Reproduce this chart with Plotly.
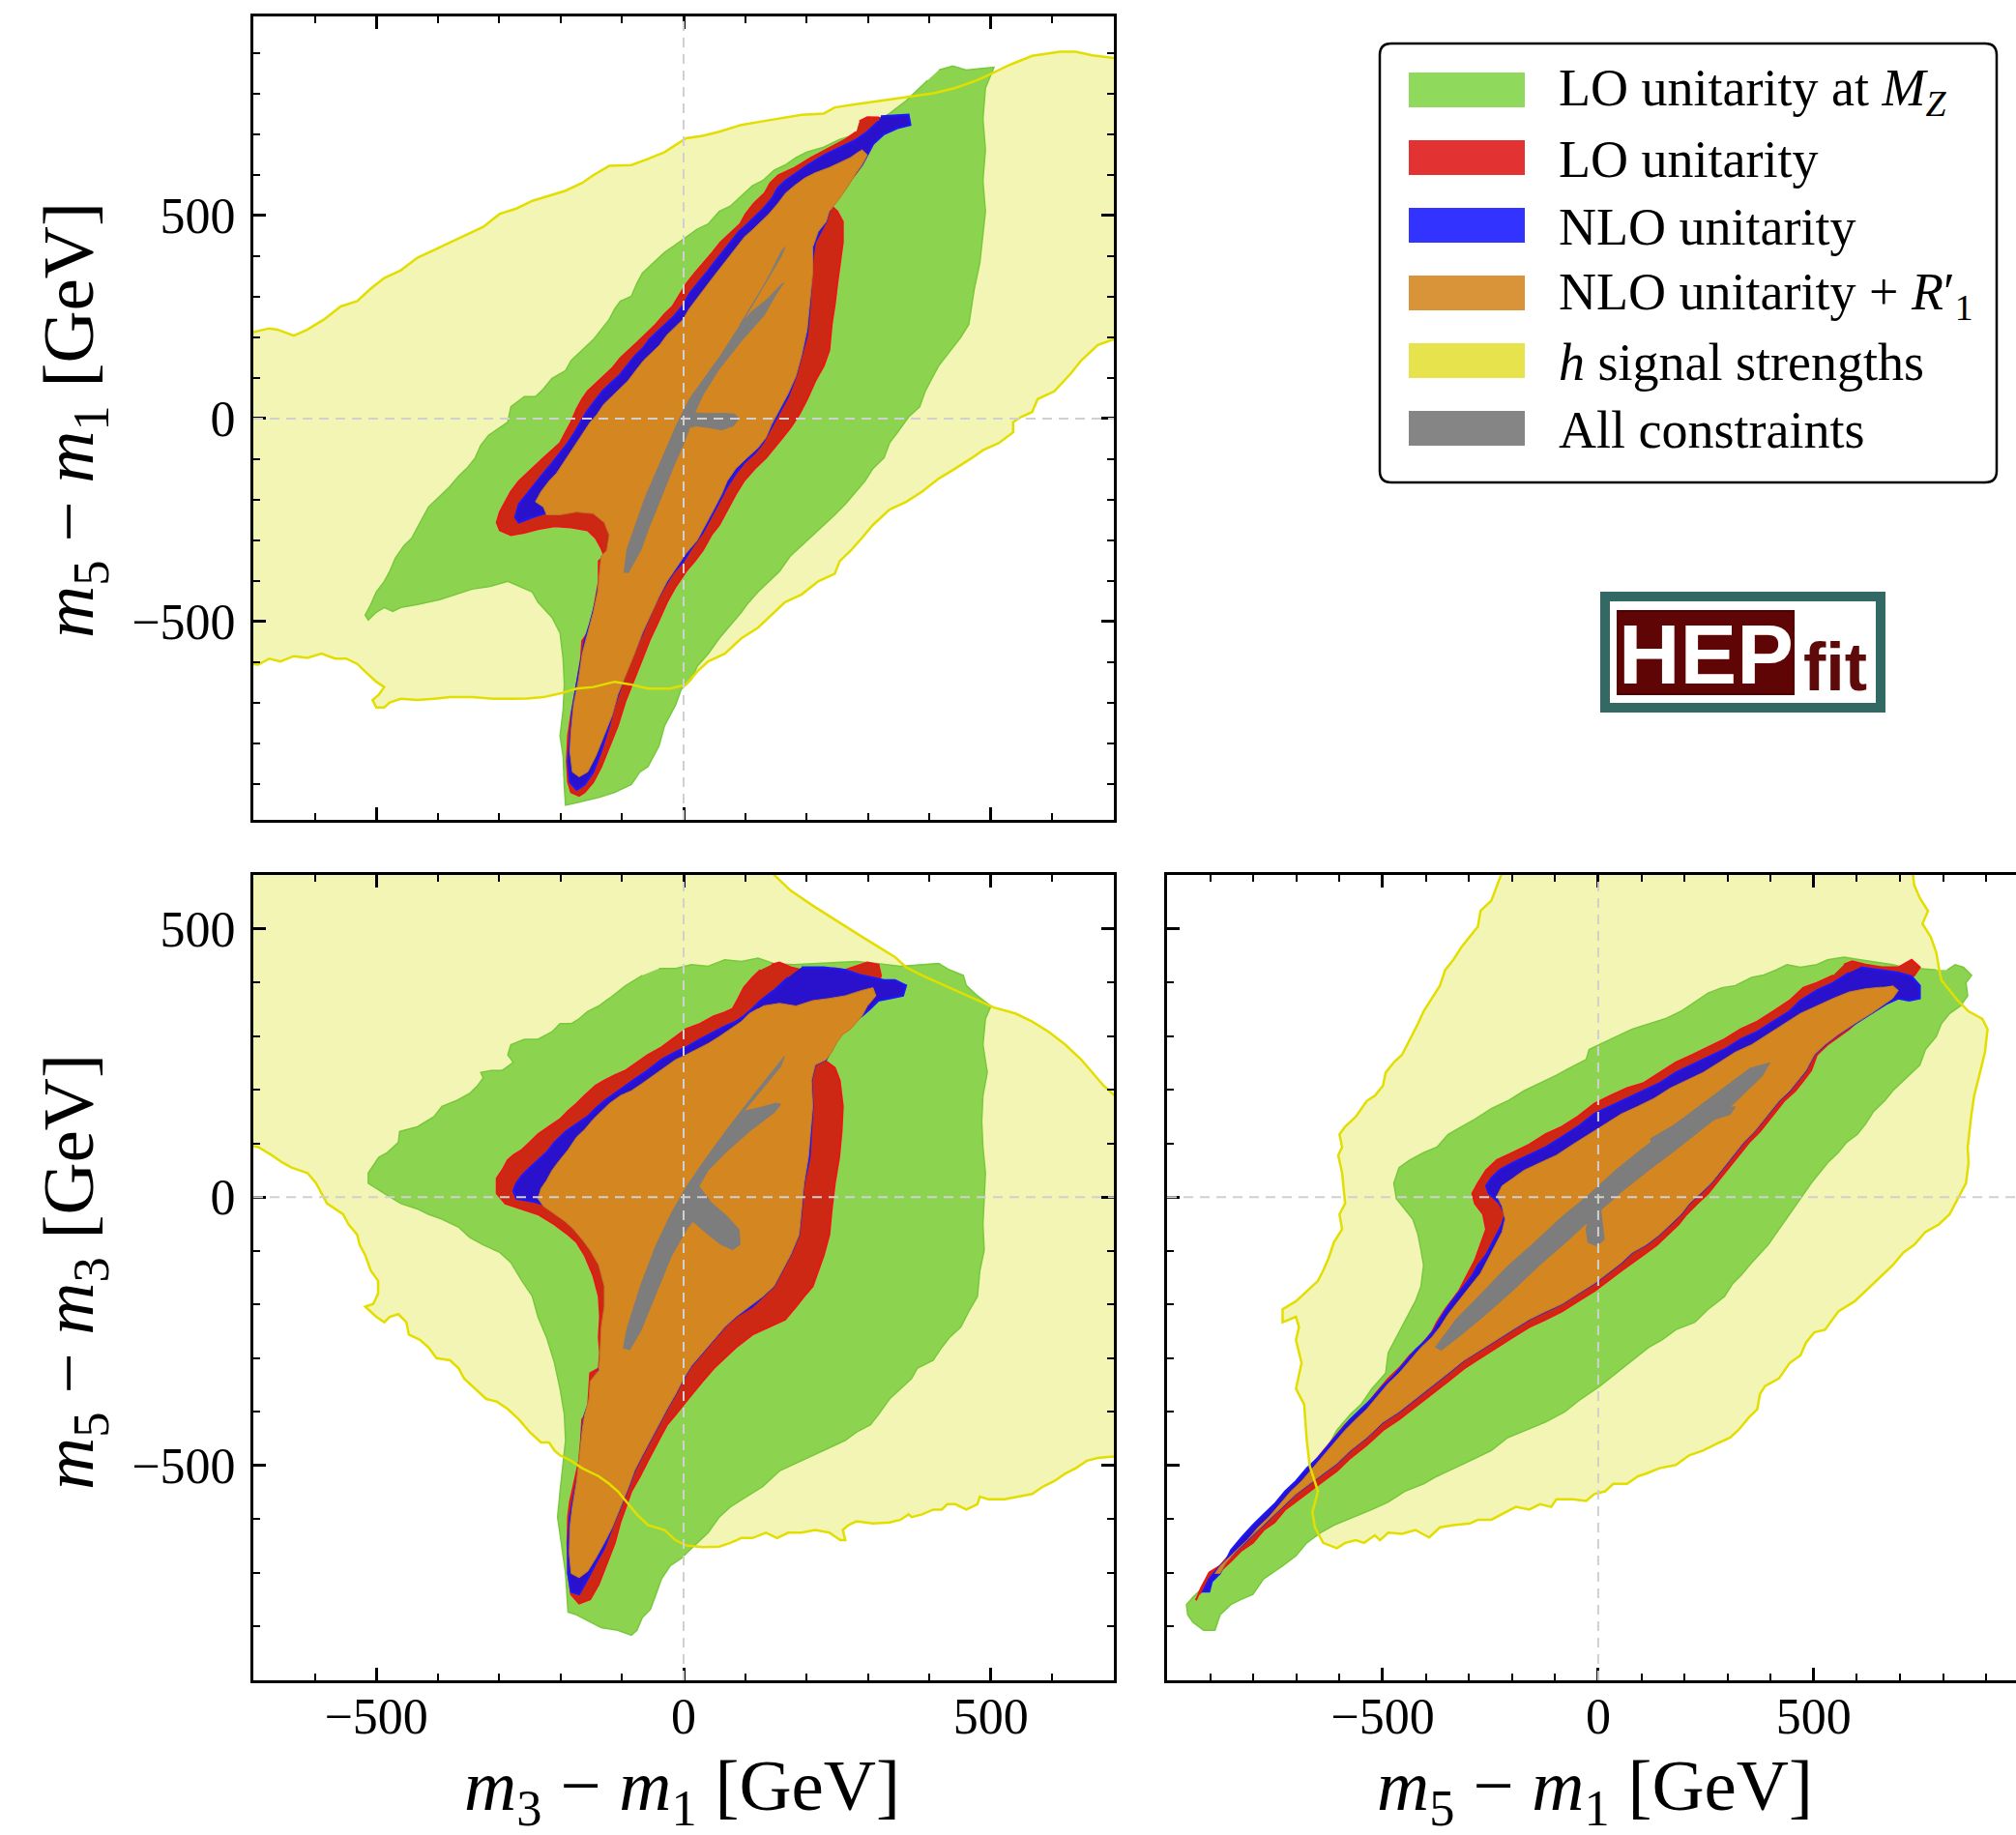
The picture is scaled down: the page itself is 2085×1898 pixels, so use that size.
import plotly.graph_objects as go

# ---------------- data (contours, in GeV) ----------------
TICKS = [-500, 0, 500]

# ---- panel 1: x = m3-m1, y = m5-m1 ----
TL_YELLOW = [(-720,206),(-674,222),(-661,219),(-634,204),(-612,219),(-585,244),(-558,276),(-531,289),(-509,320),
 (-487,346),(-460,365),(-433,396),(-406,415),(-380,434),(-353,453),(-326,472),(-299,504),(-272,517),(-246,536),
 (-219,548),(-192,561),(-165,580),(-147,599),(-121,622),(-85,624),(-58,639),(-31,656),(4,690),(31,696),(58,706),
 (94,723),(129,732),(165,742),(192,748),(228,751),(246,766),(281,774),(317,782),(344,789),(371,795),(406,801),
 (442,814),(478,833),(505,852),(531,871),(567,893),(612,903),(638,903),(665,894),(720,884),(720,206),
 (674,181),(647,143),(630,111),(603,67),(576,48),(567,16),(549,4),(536,-9),(536,-34),(513,-60),(487,-78),
 (469,-97),(442,-123),(415,-148),(388,-180),(362,-205),(335,-224),(308,-262),(290,-294),(272,-325),(254,-351),
 (246,-382),(219,-401),(192,-433),(165,-452),(147,-477),(121,-515),(94,-541),(67,-579),(40,-598),(22,-623),
 (4,-655),(-22,-665),(-58,-665),(-85,-655),(-112,-648),(-147,-661),(-174,-665),(-201,-677),(-228,-686),
 (-255,-689),(-281,-690),(-308,-690),(-344,-686),(-380,-686),(-406,-690),(-433,-693),(-460,-690),(-478,-699),
 (-487,-711),(-500,-711),(-506,-693),(-496,-680),(-487,-661),(-500,-648),(-518,-623),(-531,-604),(-549,-591),
 (-567,-591),(-589,-579),(-612,-589),(-634,-585),(-656,-598),(-674,-591),(-692,-606),(-720,-601)]

TL_GREEN = [(415,858),(438,868),(460,858),(505,865),(491,814),(487,738),(491,662),(487,586),(491,510),(487,460),
 (482,384),(473,320),(469,282),(464,232),(451,200),(438,175),(415,130),(406,105),(393,67),(384,29),(366,4),
 (348,-34),(335,-60),(326,-97),(308,-123),(295,-154),(281,-180),(263,-211),(246,-237),(228,-262),(210,-287),
 (192,-313),(174,-338),(156,-376),(138,-401),(121,-427),(103,-458),(94,-477),(76,-509),(58,-541),(40,-579),
 (22,-610),(13,-642),(-4,-667),(-13,-705),(-31,-756),(-40,-806),(-49,-832),(-58,-857),(-71,-870),(-85,-901),
 (-112,-920),(-138,-933),(-174,-946),(-192,-952),(-194,-908),(-196,-832),(-201,-781),(-196,-718),(-194,-655),
 (-196,-591),(-201,-528),(-214,-490),(-237,-452),(-246,-427),(-286,-401),(-317,-414),(-344,-420),(-371,-433),
 (-397,-446),(-433,-458),(-460,-465),(-473,-475),(-487,-465),(-500,-477),(-513,-496),(-518,-484),(-509,-458),
 (-500,-427),(-487,-401),(-478,-376),(-469,-344),(-455,-313),(-442,-294),(-433,-268),(-424,-243),(-415,-218),
 (-397,-192),(-380,-167),(-366,-142),(-353,-123),(-339,-97),(-330,-66),(-317,-41),(-299,-22),(-286,-9),
 (-281,29),(-259,54),(-241,54),(-228,73),(-214,99),(-192,118),(-183,143),(-165,168),(-147,194),(-134,219),
 (-121,244),(-112,270),(-103,289),(-85,301),(-76,333),(-67,358),(-49,384),(-31,409),(-13,428),(4,447),(22,466),
 (40,479),(58,510),(76,523),(94,548),(112,573),(129,586),(147,611),(165,624),(183,643),(201,656),(228,668),
 (254,687),(281,700),(308,725),(335,751),(362,782),(380,808),(397,833)]

TL_RED = [(286,732),(299,742),(317,741),(326,732),(324,725),(317,700),(308,675),(299,649),(290,624),(281,605),
 (272,586),(259,561),(246,542),(241,523),(250,510),(259,485),(259,434),(254,384),(250,333),(246,282),(241,232),
 (237,168),(228,130),(214,92),(201,48),(188,10),(174,-22),(161,-47),(147,-72),(134,-97),(116,-123),(98,-154),
 (85,-186),(71,-224),(58,-262),(45,-287),(31,-325),(18,-351),(4,-376),(-13,-414),(-27,-452),(-40,-496),
 (-54,-541),(-67,-591),(-80,-642),(-94,-693),(-107,-756),(-121,-806),(-134,-857),(-147,-895),(-161,-920),
 (-170,-929),(-183,-920),(-188,-895),(-190,-844),(-188,-781),(-183,-730),(-174,-655),(-167,-591),(-165,-547),
 (-156,-528),(-147,-477),(-143,-439),(-138,-401),(-138,-351),(-129,-338),(-134,-319),(-143,-294),(-156,-275),
 (-183,-268),(-210,-265),(-237,-272),(-259,-281),(-281,-287),(-299,-275),(-304,-256),(-299,-230),(-290,-205),
 (-281,-180),(-268,-154),(-255,-135),(-241,-116),(-228,-97),(-214,-78),(-201,-60),(-192,-34),(-183,-9),
 (-174,23),(-165,48),(-156,67),(-143,86),(-129,105),(-116,124),(-103,149),(-89,168),(-76,187),(-58,213),
 (-45,232),(-31,257),(-18,276),(-8,301),(5,333),(18,358),(33,384),(47,409),(60,434),(74,453),(92,479),
 (101,504),(114,529),(132,555),(141,580),(154,599),(181,618),(208,643),(235,665),(263,687),(281,706)]

TL_BLUE = [(321,744),(366,748),(369,723),(348,715),(326,700),(308,675),(299,649),(290,624),(277,599),(263,567),
 (246,536),(237,510),(232,485),(223,460),(214,434),(210,396),(208,333),(205,270),(201,206),(192,156),(183,105),
 (170,54),(156,16),(143,-22),(129,-60),(116,-85),(98,-110),(85,-135),(71,-167),(58,-205),(45,-243),(31,-281),
 (13,-319),(0,-351),(-18,-382),(-31,-414),(-45,-452),(-58,-496),(-71,-541),(-85,-591),(-98,-642),(-112,-705),
 (-121,-756),(-134,-819),(-147,-870),(-161,-901),(-174,-914),(-185,-895),(-188,-844),(-185,-781),(-181,-718),
 (-174,-655),(-167,-591),(-161,-547),(-152,-503),(-143,-452),(-137,-401),(-129,-351),(-119,-325),(-116,-287),
 (-129,-249),(-143,-224),(-165,-214),(-192,-220),(-219,-230),(-246,-243),(-268,-256),(-274,-243),(-268,-211),
 (-255,-186),(-241,-161),(-228,-135),(-214,-110),(-201,-85),(-188,-60),(-177,-34),(-167,-9),(-158,16),
 (-145,42),(-132,67),(-119,86),(-105,105),(-92,130),(-78,156),(-65,175),(-56,194),(-43,213),(-29,232),
 (-16,251),(-2,276),(10,308),(23,333),(37,358),(50,384),(63,409),(77,434),(90,460),(104,479),(117,498),
 (130,517),(144,542),(153,567),(166,586),(184,605),(202,624),(229,649),(255,668),(281,687),(299,706),(317,732)]

TL_ORANGE = [(290,662),(299,649),(290,624),(281,605),(268,573),(254,542),(237,510),(232,485),(219,460),(210,422),
 (210,358),(205,282),(201,219),(192,156),(183,105),(170,61),(156,23),(143,-15),(134,-47),(121,-72),(103,-97),
 (85,-123),(71,-154),(62,-186),(49,-224),(36,-262),(22,-300),(4,-332),(-13,-370),(-27,-401),(-40,-439),
 (-54,-484),(-67,-528),(-80,-579),(-94,-629),(-107,-680),(-116,-730),(-129,-781),(-143,-832),(-156,-870),
 (-170,-882),(-181,-870),(-185,-819),(-183,-768),(-179,-705),(-171,-642),(-165,-579),(-156,-528),(-147,-477),
 (-140,-427),(-136,-376),(-134,-338),(-125,-325),(-121,-287),(-129,-256),(-147,-234),(-174,-230),(-201,-237),
 (-223,-237),(-228,-218),(-241,-205),(-232,-180),(-219,-154),(-207,-135),(-196,-110),(-185,-85),(-175,-60),
 (-163,-34),(-152,-9),(-141,10),(-130,35),(-117,54),(-104,73),(-91,92),(-78,118),(-65,143),(-52,162),
 (-39,181),(-27,206),(-14,225),(-1,244),(9,270),(22,295),(34,320),(47,346),(60,371),(72,396),(86,422),
 (99,447),(113,466),(126,485),(139,504),(153,529),(166,555),(180,573),(197,592),(214,605),(237,618),
 (254,630),(272,643),(286,658)]

TL_GRAY_A = [(-97,-380),(-92,-322),(-63,-196),(-32,-85),(-11,-14),(10,49),(36,104),(62,159),(89,223),(115,286),
 (141,357),(159,412),(165,422),(159,400),(136,341),(110,278),(92,232),(110,262),(136,294),(159,330),(163,334),
 (150,305),(131,254),(94,191),(57,120),(31,57),(18,14),(40,12),(62,13),(83,11),(90,0),(81,-18),(62,-28),
 (41,-22),(20,-18),(10,-22),(0,-62),(-16,-117),(-37,-196),(-58,-275),(-69,-322),(-90,-380)]

# ---- panel 2: x = m3-m1, y = m5-m3 ----
BL_YELLOW = [(129,620),(174,571),(210,543),(237,523),(263,504),(290,485),(317,466),(344,447),(362,428),(388,413),
 (415,399),(451,380),(478,366),(505,353),(540,342),(567,327),(594,308),(621,284),(647,256),(665,232),(683,208),
 (720,170),(720,-481),(674,-486),(656,-491),(638,-505),(621,-515),(603,-529),(585,-539),(567,-553),(545,-558),
 (522,-563),(496,-563),(482,-558),(478,-572),(460,-582),(442,-572),(429,-572),(420,-582),(406,-582),(388,-591),
 (371,-596),(366,-591),(353,-601),(335,-606),(308,-608),(281,-604),(268,-611),(259,-620),(263,-639),(255,-639),
 (237,-625),(214,-620),(192,-625),(170,-625),(152,-635),(134,-625),(112,-635),(94,-635),(76,-644),(58,-651),
 (31,-652),(4,-649),(-13,-639),(-31,-620),(-58,-611),(-76,-591),(-94,-567),(-107,-548),(-121,-534),(-138,-520),
 (-165,-505),(-183,-491),(-201,-481),(-210,-472),(-219,-457),(-232,-457),(-250,-438),(-268,-414),(-286,-395),
 (-304,-381),(-321,-376),(-339,-357),(-357,-338),(-366,-319),(-380,-304),(-402,-300),(-415,-280),(-429,-266),
 (-447,-256),(-451,-233),(-464,-218),(-478,-223),(-487,-233),(-500,-223),(-509,-213),(-518,-204),(-505,-199),
 (-497,-180),(-497,-156),(-509,-137),(-518,-108),(-527,-89),(-531,-70),(-545,-51),(-554,-32),(-567,-22),
 (-580,-12),(-589,7),(-598,26),(-612,45),(-625,50),(-638,55),(-652,64),(-670,78),(-692,93),(-720,100),(-720,620)]

BL_GREEN = [(-40,426),(-13,426),(13,433),(40,430),(67,442),(94,439),(121,445),(147,435),(179,433),(210,435),
 (246,437),(281,439),(317,435),(353,430),(388,433),(415,435),(433,423),(455,413),(460,394),(478,375),(500,356),
 (491,332),(487,284),(494,232),(487,189),(485,141),(487,93),(491,45),(489,-3),(487,-51),(489,-99),(482,-137),
 (478,-185),(464,-213),(451,-242),(433,-261),(420,-280),(406,-304),(380,-319),(371,-338),(353,-357),(335,-376),
 (317,-405),(304,-424),(281,-438),(263,-453),(237,-467),(210,-481),(183,-496),(156,-510),(129,-539),(103,-558),
 (76,-577),(58,-596),(40,-625),(13,-654),(-4,-673),(-22,-687),(-36,-711),(-45,-740),(-54,-768),(-67,-783),
 (-76,-807),(-85,-816),(-107,-807),(-134,-802),(-156,-788),(-174,-778),(-188,-773),(-190,-740),(-192,-701),
 (-199,-644),(-205,-596),(-201,-548),(-196,-501),(-192,-453),(-194,-405),(-201,-357),(-210,-309),(-223,-261),
 (-237,-223),(-246,-185),(-263,-156),(-281,-122),(-299,-103),(-326,-89),(-348,-75),(-366,-56),(-393,-41),
 (-415,-32),(-433,-22),(-460,-12),(-487,7),(-513,26),(-513,45),(-496,74),(-482,83),(-464,102),(-462,122),
 (-433,131),(-406,150),(-393,169),(-371,179),(-348,193),(-335,208),(-326,222),(-330,232),(-313,236),
 (-295,236),(-277,251),(-286,265),(-281,284),(-259,294),(-237,294),(-214,308),(-201,323),(-183,323),
 (-170,332),(-156,346),(-138,356),(-121,370),(-94,394),(-67,413)]

BL_RED = [(143,433),(156,437),(174,428),(192,423),(219,423),(246,426),(263,423),(281,430),(299,437),(317,433),
 (321,413),(317,399),(308,390),(299,370),(290,351),(277,332),(263,313),(246,294),(237,275),(228,256),(246,241),
 (254,217),(259,169),(257,122),(253,74),(246,26),(241,-22),(237,-70),(228,-108),(219,-137),(210,-166),(196,-185),
 (183,-204),(165,-228),(138,-242),(112,-256),(85,-280),(67,-300),(49,-319),(31,-343),(13,-367),(0,-386),
 (-13,-405),(-27,-424),(-36,-443),(-45,-462),(-58,-491),(-71,-520),(-85,-548),(-94,-577),(-103,-606),
 (-112,-644),(-125,-682),(-138,-721),(-152,-749),(-170,-757),(-183,-740),(-188,-701),(-189,-644),(-188,-596),
 (-185,-568),(-176,-524),(-170,-491),(-167,-453),(-165,-414),(-156,-400),(-154,-357),(-152,-328),(-138,-319),
 (-136,-290),(-138,-261),(-136,-223),(-138,-185),(-147,-146),(-161,-108),(-174,-84),(-188,-70),(-210,-51),
 (-237,-32),(-263,-22),(-290,-12),(-304,7),(-304,35),(-295,50),(-286,69),(-277,78),(-263,88),(-250,102),
 (-237,117),(-219,131),(-201,145),(-188,160),(-174,174),(-161,189),(-143,208),(-129,217),(-112,227),(-94,236),
 (-76,251),(-58,265),(-36,279),(-13,299),(4,313),(27,323),(49,337),(67,344),(80,351),(89,370),(98,390),
 (112,409),(125,423)]

BL_BLUE = [(192,428),(228,428),(263,423),(290,413),(326,404),(344,404),(362,394),(357,375),(335,370),(317,366),
 (304,351),(290,337),(277,327),(263,313),(250,294),(241,275),(232,256),(214,246),(208,217),(210,169),(208,122),
 (205,74),(196,26),(192,-22),(188,-70),(174,-108),(161,-137),(147,-166),(129,-185),(112,-204),(85,-223),
 (67,-242),(49,-266),(31,-290),(13,-314),(0,-338),(-13,-367),(-27,-395),(-40,-424),(-54,-453),(-67,-481),
 (-80,-510),(-89,-539),(-103,-577),(-116,-615),(-129,-654),(-143,-682),(-156,-711),(-170,-740),(-183,-735),
 (-188,-701),(-188,-644),(-185,-596),(-179,-558),(-172,-520),(-167,-472),(-165,-434),(-161,-405),(-152,-376),
 (-146,-347),(-137,-319),(-129,-290),(-121,-261),(-116,-233),(-116,-204),(-121,-166),(-129,-127),(-143,-99),
 (-156,-70),(-170,-60),(-183,-46),(-196,-32),(-219,-17),(-246,-8),(-272,-3),(-277,11),(-272,26),(-263,40),
 (-250,55),(-237,69),(-223,83),(-210,102),(-192,122),(-174,136),(-156,150),(-143,165),(-129,179),(-112,193),
 (-94,208),(-76,222),(-58,236),(-36,256),(-13,270),(4,279),(27,294),(49,308),(67,318),(85,327),(98,337),
 (112,351),(125,366),(147,385),(170,409)]

BL_ORANGE = [(129,356),(156,361),(183,356),(210,366),(237,370),(263,375),(290,385),(308,390),(313,375),(299,356),
 (290,337),(272,313),(259,303),(250,289),(241,270),(232,256),(214,246),(208,217),(210,169),(207,122),(203,74),
 (196,26),(192,-22),(188,-70),(174,-108),(161,-137),(147,-166),(129,-185),(107,-204),(85,-223),(67,-242),
 (49,-266),(31,-290),(13,-314),(0,-338),(-13,-367),(-27,-395),(-40,-424),(-54,-453),(-67,-481),(-80,-510),
 (-89,-539),(-103,-577),(-116,-615),(-129,-644),(-143,-673),(-156,-697),(-170,-709),(-183,-701),(-186,-663),
 (-185,-615),(-181,-577),(-174,-529),(-169,-472),(-165,-434),(-161,-405),(-154,-376),(-152,-343),(-138,-323),
 (-136,-290),(-134,-242),(-129,-204),(-129,-166),(-138,-127),(-152,-99),(-165,-79),(-179,-60),(-192,-46),
 (-210,-32),(-228,-17),(-237,-3),(-232,16),(-223,31),(-214,50),(-205,64),(-188,88),(-174,112),(-161,126),
 (-147,145),(-134,160),(-121,174),(-103,189),(-85,198),(-67,212),(-49,227),(-31,241),(-13,256),(4,265),
 (22,275),(40,286),(58,299),(76,313),(94,327),(107,342),(121,351)]

BL_GRAY_A = [(-98,-282),(-92,-245),(-70,-165),(-45,-90),(-20,-30),(5,20),(35,70),(70,125),(115,192),(160,255),
 (164,262),(158,243),(120,190),(98,160),(122,166),(150,175),(158,173),(148,158),(110,125),(70,85),(40,50),
 (25,20),(45,-10),(70,-35),(90,-60),(92,-88),(80,-98),(60,-88),(35,-65),(15,-45),(5,-60),(-20,-110),
 (-45,-180),(-70,-250),(-88,-285)]

# ---- panel 3: x = m5-m1, y = m5-m3 ----
BR_YELLOW = [(-216,620),(-235,581),(-248,552),(-273,533),(-279,504),(-298,485),(-317,466),(-336,442),(-355,423),
 (-367,394),(-386,370),(-405,346),(-418,323),(-437,294),(-455,265),(-474,251),(-493,232),(-499,208),(-518,189),
 (-537,179),(-562,150),(-587,131),(-600,117),(-594,93),(-603,78),(-594,45),(-587,-12),(-600,-32),(-594,-60),
 (-613,-84),(-625,-113),(-638,-137),(-650,-156),(-682,-180),(-701,-194),(-732,-209),(-732,-233),(-701,-223),
 (-694,-242),(-701,-266),(-688,-309),(-701,-357),(-682,-386),(-676,-453),(-669,-501),(-650,-548),(-663,-587),
 (-657,-615),(-638,-644),(-606,-654),(-587,-644),(-562,-639),(-543,-644),(-518,-630),(-506,-639),(-487,-625),
 (-455,-627),(-424,-620),(-392,-634),(-367,-615),(-336,-611),(-298,-608),(-279,-601),(-248,-601),(-223,-591),
 (-191,-577),(-160,-582),(-135,-572),(-109,-577),(-97,-563),(-59,-563),(-28,-566),(-9,-553),(16,-548),
 (35,-534),(67,-534),(92,-520),(111,-515),(142,-505),(180,-499),(211,-481),(243,-472),(281,-457),(306,-448),
 (325,-434),(350,-410),(369,-395),(375,-367),(387,-352),(419,-338),(444,-309),(469,-295),(482,-271),
 (501,-252),(526,-247),(557,-213),(595,-194),(633,-166),(658,-146),(683,-127),(708,-103),(733,-89),(759,-65),
 (790,-51),(815,-32),(834,-3),(853,26),(859,64),(857,93),(865,150),(872,189),(884,227),(897,270),(903,313),
 (891,332),(859,346),(834,366),(815,385),(796,404),(790,428),(784,456),(771,485),(752,509),(765,533),
 (746,557),(733,581),(727,620)]

BR_GREEN = [(809,423),(828,433),(847,428),(866,413),(853,399),(857,375),(840,356),(815,342),(796,323),(784,299),
 (759,275),(746,246),(721,227),(702,212),(683,198),(664,179),(639,160),(620,136),(601,117),(576,102),(557,83),
 (532,64),(513,45),(494,26),(469,-3),(444,-32),(419,-60),(394,-89),(356,-122),(331,-146),(312,-161),(293,-185),
 (255,-209),(224,-233),(180,-247),(148,-266),(117,-280),(79,-304),(42,-328),(4,-352),(-40,-376),(-78,-400),
 (-122,-419),(-166,-434),(-210,-448),(-248,-472),(-286,-486),(-323,-501),(-374,-520),(-405,-534),(-449,-548),
 (-487,-568),(-525,-582),(-569,-596),(-613,-611),(-644,-625),(-676,-644),(-701,-668),(-732,-687),(-776,-711),
 (-801,-740),(-827,-749),(-852,-759),(-877,-778),(-889,-807),(-915,-807),(-940,-792),(-952,-778),(-955,-759),
 (-940,-745),(-915,-725),(-889,-706),(-864,-682),(-833,-658),(-801,-634),(-764,-596),(-726,-568),(-694,-539),
 (-669,-510),(-638,-481),(-606,-434),(-575,-405),(-550,-386),(-525,-357),(-493,-328),(-487,-290),(-462,-252),
 (-443,-223),(-424,-194),(-411,-166),(-405,-127),(-411,-99),(-418,-70),(-430,-41),(-449,-22),(-468,-3),
 (-474,26),(-462,55),(-437,69),(-405,83),(-374,93),(-348,117),(-317,131),(-286,145),(-248,165),(-210,179),
 (-172,198),(-135,212),(-97,227),(-65,241),(-28,256),(-21,275),(4,284),(42,299),(79,313),(117,323),(155,332),
 (192,346),(230,366),(255,380),(287,390),(318,394),(356,409),(381,413),(413,423),(438,433),(469,428),
 (507,433),(532,442),(570,447),(608,442),(645,437),(683,433),(708,428),(746,426),(784,423)]

BR_RED = [(570,433),(589,439),(620,433),(658,428),(696,428),(727,442),(746,428),(733,413),(708,404),(683,380),
 (658,361),(633,346),(608,332),(582,313),(557,299),(532,284),(507,265),(494,236),(476,217),(457,198),(431,179),
 (413,160),(394,141),(375,122),(350,102),(331,83),(312,64),(293,45),(274,26),(255,7),(230,-12),(205,-32),
 (186,-51),(161,-70),(136,-89),(104,-108),(79,-122),(54,-137),(23,-156),(-9,-175),(-47,-194),(-84,-213),
 (-122,-228),(-160,-242),(-198,-261),(-235,-280),(-273,-300),(-311,-319),(-348,-343),(-386,-367),(-424,-390),
 (-462,-414),(-499,-434),(-537,-462),(-575,-486),(-606,-510),(-638,-529),(-669,-548),(-701,-567),(-726,-582),
 (-751,-606),(-776,-620),(-801,-644),(-827,-658),(-852,-678),(-877,-697),(-902,-721),(-927,-740),(-933,-751),
 (-921,-728),(-902,-699),(-877,-687),(-852,-663),(-827,-644),(-801,-620),(-776,-601),(-751,-577),(-726,-558),
 (-701,-534),(-676,-510),(-657,-491),(-638,-472),(-613,-448),(-587,-424),(-562,-405),(-537,-386),(-512,-362),
 (-487,-338),(-462,-319),(-437,-295),(-411,-276),(-386,-252),(-374,-233),(-355,-209),(-336,-189),(-323,-175),
 (-311,-156),(-298,-137),(-286,-118),(-273,-89),(-260,-60),(-267,-32),(-286,-12),(-292,7),(-279,26),(-260,50),
 (-235,69),(-198,83),(-160,98),(-122,117),(-84,131),(-47,150),(-9,174),(29,189),(67,203),(104,212),(142,232),
 (180,251),(218,265),(255,279),(293,294),(331,313),(369,327),(406,346),(444,366),(476,390),(507,399),(545,413)]

BR_BLUE = [(608,428),(658,423),(696,418),(727,411),(746,394),(746,370),(721,366),(696,370),(671,361),(633,342),
 (595,323),(557,303),(526,284),(501,265),(482,236),(463,217),(444,198),(419,179),(400,160),(381,141),(362,122),
 (337,102),(318,83),(299,64),(281,45),(262,26),(237,7),(211,-12),(192,-32),(167,-51),(142,-70),(111,-89),
 (79,-103),(54,-122),(23,-142),(-9,-161),(-47,-180),(-84,-199),(-122,-213),(-160,-228),(-198,-247),(-235,-266),
 (-273,-285),(-311,-304),(-348,-328),(-386,-352),(-424,-376),(-462,-400),(-499,-419),(-537,-448),(-575,-472),
 (-606,-496),(-638,-515),(-669,-534),(-701,-553),(-726,-572),(-751,-591),(-776,-611),(-801,-630),(-827,-649),
 (-852,-668),(-877,-687),(-902,-711),(-917,-735),(-902,-735),(-896,-716),(-877,-701),(-852,-658),(-827,-634),
 (-801,-611),(-776,-591),(-751,-572),(-726,-548),(-701,-529),(-676,-505),(-650,-486),(-625,-462),(-600,-438),
 (-575,-414),(-550,-395),(-525,-376),(-499,-352),(-474,-333),(-449,-309),(-424,-285),(-399,-266),(-380,-247),
 (-367,-228),(-348,-204),(-330,-185),(-311,-166),(-292,-146),(-279,-127),(-260,-108),(-248,-89),(-235,-70),
 (-223,-51),(-216,-32),(-229,-12),(-254,7),(-260,21),(-248,35),(-229,50),(-198,64),(-160,78),(-122,93),
 (-84,112),(-47,131),(-9,155),(29,169),(67,184),(104,198),(142,212),(180,232),(218,246),(255,260),(293,275),
 (331,294),(369,308),(406,327),(444,346),(469,366),(507,385),(545,399),(582,418)]

BR_ORANGE = [(683,394),(696,385),(683,370),(658,356),(633,342),(595,323),(557,303),(526,284),(501,265),(482,236),
 (463,217),(444,198),(419,179),(400,160),(381,141),(362,122),(337,102),(318,83),(299,64),(281,45),(262,26),
 (237,7),(211,-12),(192,-32),(167,-51),(142,-70),(111,-89),(79,-103),(54,-122),(23,-142),(-9,-161),(-47,-180),
 (-84,-199),(-122,-213),(-160,-228),(-198,-247),(-235,-266),(-273,-285),(-311,-304),(-348,-328),(-386,-352),
 (-424,-376),(-462,-400),(-499,-419),(-537,-448),(-575,-472),(-606,-496),(-638,-515),(-669,-534),(-701,-553),
 (-726,-572),(-751,-591),(-776,-611),(-801,-630),(-827,-649),(-852,-668),(-877,-687),(-889,-701),(-877,-701),
 (-864,-682),(-839,-658),(-814,-639),(-789,-615),(-764,-596),(-738,-572),(-713,-548),(-688,-529),(-663,-505),
 (-638,-481),(-613,-457),(-587,-434),(-562,-414),(-537,-395),(-512,-371),(-487,-347),(-462,-328),(-437,-304),
 (-411,-280),(-386,-261),(-367,-242),(-348,-218),(-330,-199),(-311,-180),(-292,-161),(-273,-142),(-260,-122),
 (-248,-103),(-235,-84),(-223,-65),(-216,-41),(-223,-17),(-235,2),(-223,21),(-198,35),(-172,50),(-135,64),
 (-97,78),(-59,98),(-21,117),(16,136),(54,155),(92,169),(130,184),(167,203),(205,217),(243,232),(281,251),
 (318,270),(356,284),(394,303),(431,323),(469,342),(507,356),(545,370),(582,382),(620,388),(658,391)]

BR_GRAY_A = [(-378,-280),(-330,-228),(-275,-183),(-212,-130),(-150,-86),(-86,-38),(-25,2),(40,50),(102,90),
 (165,128),(228,166),(290,204),(352,240),(398,250),(380,225),(306,168),(243,128),(180,88),(117,50),(54,10),
 (-9,-35),(-72,-82),(-135,-126),(-198,-174),(-260,-218),(-317,-256),(-365,-286)]
BR_GRAY_B = [(120,108),(205,148),(268,166),(318,168),(306,154),(243,138),(180,112),(130,90)]
BR_GRAY_C = [(-15,-12),(4,-12),(10,-51),(14,-79),(-3,-91),(-24,-84),(-28,-60),(-21,-32)]

LEGEND_LABELS = ["LO unitarity at <i>M</i><sub><i>Z</i></sub>", "LO unitarity", "NLO unitarity",
                 "NLO unitarity + <i>R</i>\u2032<sub>1</sub>", "<i>h</i> signal strengths", "All constraints"]

# ---------------- styling ----------------
W, H = 2085, 1898
SERIF = "Liberation Serif"
C_YFILL, C_YLINE = "rgb(243,245,180)", "rgb(226,222,0)"
C_GREEN, C_GREEN_L = "rgb(140,212,80)", "rgb(120,200,60)"
C_RED, C_RED_L = "rgb(205,40,20)", "rgb(235,20,25)"
C_BLUE, C_BLUE_L = "rgb(42,18,205)", "rgb(25,25,255)"
C_ORANGE, C_ORANGE_L = "rgb(212,134,32)", "rgb(190,120,40)"
C_GRAY = "rgb(125,125,125)"
LEG_COLORS = ["rgb(143,217,92)", "rgb(226,50,50)", "rgb(51,51,255)", "rgb(217,147,56)",
              "rgb(230,227,77)", "rgb(133,133,133)"]

def px(x):
    return x / W

def py(y):
    return 1 - y / H

fig = go.Figure()

def poly(pts, xa, ya, fill, line=None, lw=0):
    xs = [p[0] for p in pts]
    ys = [p[1] for p in pts]
    fig.add_trace(go.Scatter(x=xs, y=ys, xaxis=xa, yaxis=ya, mode="lines", fill="toself",
                             fillcolor=fill, line=dict(color=line or fill, width=lw),
                             hoverinfo="skip", showlegend=False))

def outline(pts, xa, ya, color, lw):
    xs = [p[0] for p in pts] + [pts[0][0]]
    ys = [p[1] for p in pts] + [pts[0][1]]
    fig.add_trace(go.Scatter(x=xs, y=ys, xaxis=xa, yaxis=ya, mode="lines",
                             line=dict(color=color, width=lw), hoverinfo="skip", showlegend=False))

panels = [
    ("x", "y", TL_YELLOW, TL_GREEN, TL_RED, TL_BLUE, TL_ORANGE, [TL_GRAY_A]),
    ("x2", "y2", BL_YELLOW, BL_GREEN, BL_RED, BL_BLUE, BL_ORANGE, [BL_GRAY_A]),
    ("x3", "y3", BR_YELLOW, BR_GREEN, BR_RED, BR_BLUE, BR_ORANGE, [BR_GRAY_A, BR_GRAY_B, BR_GRAY_C]),
]
for xa, ya, yel, grn, red, blu, ora, grays in panels:
    poly(yel, xa, ya, C_YFILL)
    poly(grn, xa, ya, C_GREEN, C_GREEN_L, 1.5)
    poly(red, xa, ya, C_RED, C_RED_L, 2)
    poly(blu, xa, ya, C_BLUE, C_BLUE_L, 2)
    poly(ora, xa, ya, C_ORANGE, C_ORANGE_L, 1)
    for g in grays:
        poly(g, xa, ya, C_GRAY, C_GRAY, 1)
    outline(yel, xa, ya, C_YLINE, 2.5)

# ---------------- axes ----------------
LX = [262, 1152]
RX = [1207, 2085]
TY = [17, 848]
BY = [905, 1738]

def axis_common(rng, dom, show_labels, mirror, standoff):
    return dict(range=rng, domain=dom, showgrid=False, zeroline=False,
                showline=True, linecolor="black", linewidth=3, mirror=mirror,
                ticks="inside", ticklen=13, tickwidth=2.5, tickcolor="black",
                tickmode="array", tickvals=TICKS, showticklabels=show_labels,
                tickfont=dict(family=SERIF, size=52, color="black"),
                ticklabelstandoff=standoff,
                minor=dict(ticks="inside", ticklen=7, tickwidth=2, tickcolor="black",
                           tickmode="array", tickvals=list(range(-1000, 1001, 100)), showgrid=False))

fig.update_layout(
    width=W, height=H, margin=dict(l=0, r=0, t=0, b=0),
    paper_bgcolor="white", plot_bgcolor="white", showlegend=False,
    xaxis=dict(axis_common([-700, 700], [px(LX[0]), px(LX[1])], False, "allticks", -10), anchor="y"),
    yaxis=dict(axis_common([-988, 990], [py(TY[1]), py(TY[0])], True, "allticks", 5), anchor="x"),
    xaxis2=dict(axis_common([-700, 700], [px(LX[0]), px(LX[1])], True, "allticks", -10), anchor="y2"),
    yaxis2=dict(axis_common([-900, 600], [py(BY[1]), py(BY[0])], True, "allticks", 5), anchor="x2"),
    xaxis3=dict(axis_common([-1000, 969], [px(RX[0]), 1.0], True, "allticks", -10), anchor="y3"),
    yaxis3=dict(axis_common([-900, 600], [py(BY[1]), py(BY[0])], False, False, 5), anchor="x3"),
)

shapes = []
# dashed zero lines
for xa, ya in [("x", "y"), ("x2", "y2"), ("x3", "y3")]:
    shapes.append(dict(type="line", xref=xa, yref=ya + " domain", x0=0, x1=0, y0=0, y1=1,
                       line=dict(color="rgb(208,208,208)", width=2, dash="10px,7px"), layer="above"))
    shapes.append(dict(type="line", xref=xa + " domain", yref=ya, x0=0, x1=1, y0=0, y1=0,
                       line=dict(color="rgb(208,208,208)", width=2, dash="10px,7px"), layer="above"))

# legend box (rounded)
bx0, bx1, by0, by1, r = 1427, 2065, 45, 499, 12
path = (f"M {px(bx0 + r)},{py(by0)} L {px(bx1 - r)},{py(by0)} Q {px(bx1)},{py(by0)} {px(bx1)},{py(by0 + r)} "
        f"L {px(bx1)},{py(by1 - r)} Q {px(bx1)},{py(by1)} {px(bx1 - r)},{py(by1)} "
        f"L {px(bx0 + r)},{py(by1)} Q {px(bx0)},{py(by1)} {px(bx0)},{py(by1 - r)} "
        f"L {px(bx0)},{py(by0 + r)} Q {px(bx0)},{py(by0)} {px(bx0 + r)},{py(by0)} Z")
shapes.append(dict(type="path", xref="paper", yref="paper", path=path,
                   line=dict(color="black", width=2.5), fillcolor="white", layer="above"))

annotations = []
row_y = [93, 163, 233, 303, 373, 443]
for lab, col, ry in zip(LEGEND_LABELS, LEG_COLORS, row_y):
    shapes.append(dict(type="rect", xref="paper", yref="paper", x0=px(1457), x1=px(1577),
                       y0=py(ry + 18), y1=py(ry - 18), fillcolor=col, line=dict(width=0), layer="above"))
    annotations.append(dict(xref="paper", yref="paper", x=px(1610), y=py(ry + 2), text=lab,
                            showarrow=False, xanchor="left", yanchor="middle",
                            font=dict(family=SERIF, size=54, color="black")))

# HEPfit logo
shapes.append(dict(type="rect", xref="paper", yref="paper", x0=px(1660), x1=px(1945), y0=py(732), y1=py(617),
                   fillcolor="white", line=dict(color="rgb(50,105,100)", width=10), layer="above"))
shapes.append(dict(type="rect", xref="paper", yref="paper", x0=px(1673), x1=px(1855), y0=py(718), y1=py(632),
                   fillcolor="rgb(95,5,5)", line=dict(color="rgb(80,0,0)", width=2), layer="above"))
annotations.append(dict(xref="paper", yref="paper", x=px(1764), y=py(676), text="<b>HEP</b>", showarrow=False,
                        xanchor="center", yanchor="middle",
                        font=dict(family="Liberation Sans", size=88, color="white")))
annotations.append(dict(xref="paper", yref="paper", x=px(1898), y=py(690), text="<b>fit</b>", showarrow=False,
                        xanchor="center", yanchor="middle",
                        font=dict(family="Liberation Sans", size=70, color="rgb(95,10,10)")))

# axis titles
TFONT = dict(family=SERIF, size=75, color="black")
annotations += [
    dict(xref="paper", yref="paper", x=px(705), y=py(1852), showarrow=False, xanchor="center", yanchor="middle",
         text="<i>m</i><sub>3</sub> \u2212 <i>m</i><sub>1</sub> [GeV]", font=TFONT),
    dict(xref="paper", yref="paper", x=px(1649), y=py(1852), showarrow=False, xanchor="center", yanchor="middle",
         text="<i>m</i><sub>5</sub> \u2212 <i>m</i><sub>1</sub> [GeV]", font=TFONT),
    dict(xref="paper", yref="paper", x=px(76), y=py(435), showarrow=False, xanchor="center", yanchor="middle",
         textangle=-90, text="<i>m</i><sub>5</sub> \u2212 <i>m</i><sub>1</sub> [GeV]", font=TFONT),
    dict(xref="paper", yref="paper", x=px(76), y=py(1316), showarrow=False, xanchor="center", yanchor="middle",
         textangle=-90, text="<i>m</i><sub>5</sub> \u2212 <i>m</i><sub>3</sub> [GeV]", font=TFONT),
]

fig.update_layout(shapes=shapes, annotations=annotations)
fig.write_html("out.html", config={"displayModeBar": False},
               post_script="document.body.style.margin='0px';document.body.style.overflow='hidden';")
